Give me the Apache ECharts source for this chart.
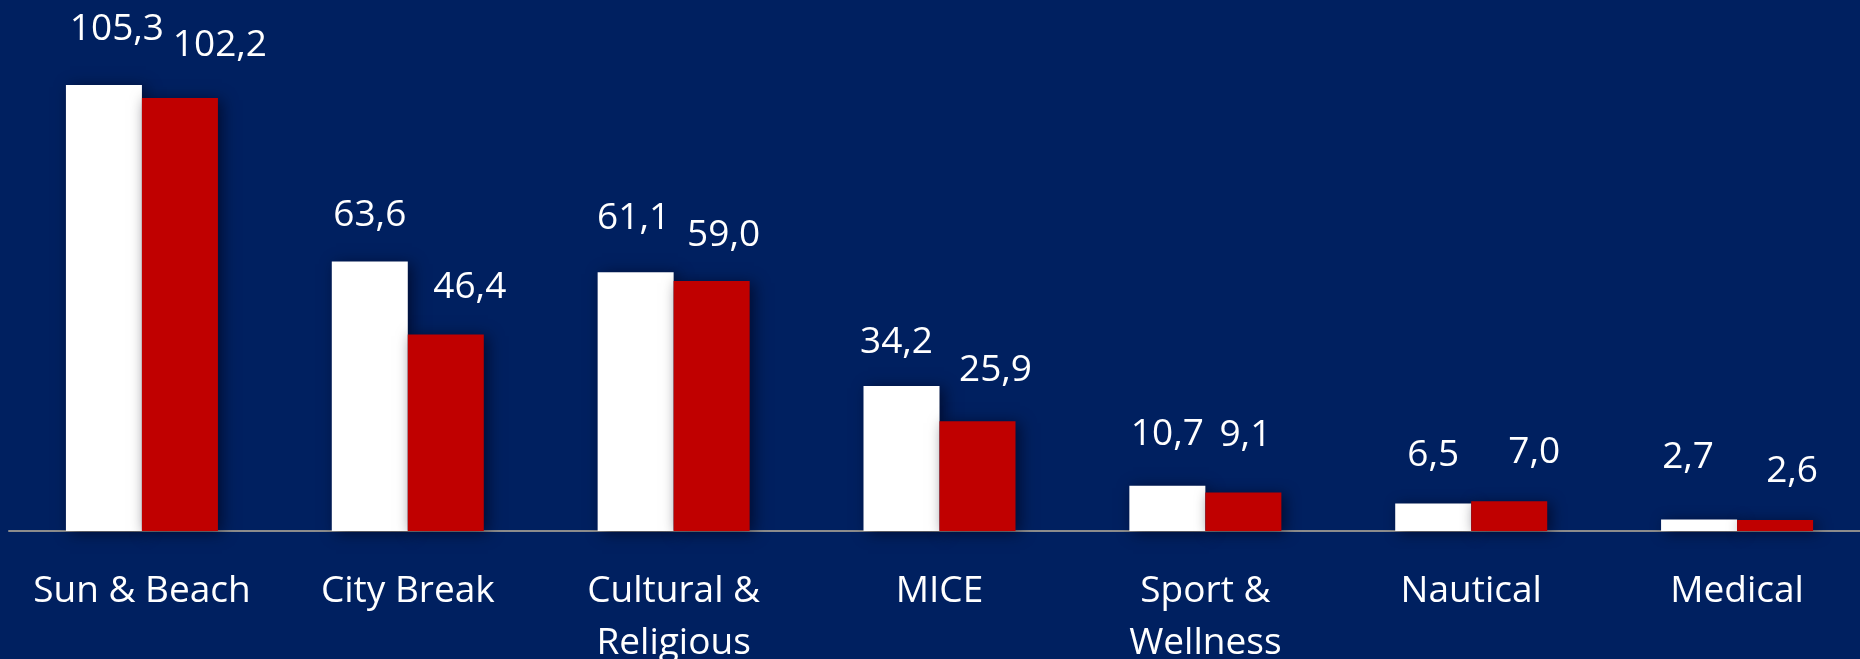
<!DOCTYPE html>
<html>
<head>
<meta charset="utf-8">
<script src="https://cdn.jsdelivr.net/npm/echarts@6/dist/echarts.min.js"></script>
<style>
html,body{margin:0;padding:0;background:#002060;overflow:hidden;}
#c{width:1860px;height:659px;}
</style>
</head>
<body>
<div id="c"></div>
<script>
const categories = ['Sun & Beach', 'City Break', 'Cultural &\nReligious', 'MICE', 'Sport &\nWellness', 'Nautical', 'Medical'];
const seriesA = [105.3, 63.6, 61.1, 34.2, 10.7, 6.5, 2.7];
const seriesB = [102.2, 46.4, 59.0, 25.9, 9.1, 7.0, 2.6];
// label placement tweaks (style only): [dx, distance of label centre above bar top]
const labelPosA = [[13, 55], [0, 46], [-2, 54], [-5, 44], [0, 51], [0, 48], [-11, 62]];
const labelPosB = [[40, 53], [24, 47], [12, 46], [18, 51], [2, 57], [25, 49], [17, 49]];

const FONT = '"Open Sans", "Liberation Sans", sans-serif';
const LH = 37;
function fmt(v){ return v.toFixed(1).replace('.', ','); }
function build(vals, pos){
  return vals.map((v, i) => ({
    value: v,
    label: { offset: [pos[i][0], -(pos[i][1] - 5 - LH/2)] }
  }));
}
const chart = echarts.init(document.getElementById('c'));
const baseLabel = {
  show: true, position: 'top', distance: 5, color: '#ffffff',
  fontFamily: FONT, fontSize: 37, lineHeight: LH,
  formatter: p => fmt(p.value)
};
const shadow = { shadowBlur: 14, shadowColor: 'rgba(0,0,20,0.6)', shadowOffsetX: 4, shadowOffsetY: 2 };
chart.setOption({
  backgroundColor: '#002060',
  animation: false,
  grid: { left: 9, width: 1861, top: 65, height: 466, containLabel: false, outerBoundsMode: 'none' },
  xAxis: {
    type: 'category', data: categories,
    axisLine: { show: true, lineStyle: { color: '#8c8c8c', width: 2 } },
    axisTick: { show: false },
    axisLabel: { color: '#ffffff', fontFamily: FONT, fontSize: 37, lineHeight: 52, margin: 34, interval: 0 }
  },
  yAxis: { type: 'value', min: 0, max: 110, show: false, splitLine: { show: false } },
  series: [
    { type: 'bar', name: 'A', data: build(seriesA, labelPosA), barWidth: 76, barGap: '0%',
      itemStyle: Object.assign({ color: '#ffffff' }, shadow), label: baseLabel },
    { type: 'bar', name: 'B', data: build(seriesB, labelPosB), barWidth: 76, barGap: '0%',
      itemStyle: Object.assign({ color: '#c00000' }, shadow), label: baseLabel }
  ]
});
</script>
</body>
</html>
